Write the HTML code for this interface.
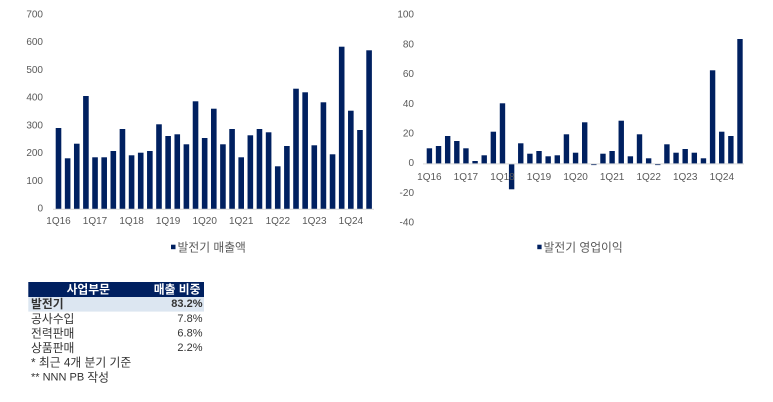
<!DOCTYPE html>
<html><head><meta charset="utf-8"><style>
html,body{margin:0;padding:0;background:#fff;}
svg{display:block;}
text{font-family:"Liberation Sans","Noto Sans CJK KR",sans-serif;}
.t{font-size:10px;fill:#595959;}
.lg{font-size:11.8px;fill:#595959;}
.tb{font-size:11px;fill:#333;}
.k{font-size:11.8px;}
</style></head><body>
<svg width="773" height="402" viewBox="0 0 773 402" xmlns="http://www.w3.org/2000/svg">
<!-- LEFT CHART -->
<g class="t" text-anchor="end" dominant-baseline="central">
<text x="43" y="15">700</text><text x="43" y="42.7">600</text><text x="43" y="70.4">500</text><text x="43" y="98.1">400</text><text x="43" y="125.9">300</text><text x="43" y="153.6">200</text><text x="43" y="181.3">100</text><text x="43" y="209">0</text>
</g>
<g fill="#002060">
<rect x="55.70" y="128" width="5.6" height="81"/>
<rect x="64.84" y="158.3" width="5.6" height="50.7"/>
<rect x="73.97" y="143.7" width="5.6" height="65.3"/>
<rect x="83.11" y="96" width="5.6" height="113"/>
<rect x="92.24" y="157.3" width="5.6" height="51.7"/>
<rect x="101.38" y="157.3" width="5.6" height="51.7"/>
<rect x="110.51" y="151" width="5.6" height="58"/>
<rect x="119.65" y="129" width="5.6" height="80"/>
<rect x="128.78" y="155.3" width="5.6" height="53.7"/>
<rect x="137.92" y="152.7" width="5.6" height="56.3"/>
<rect x="147.05" y="151" width="5.6" height="58"/>
<rect x="156.19" y="124.3" width="5.6" height="84.7"/>
<rect x="165.32" y="136" width="5.6" height="73"/>
<rect x="174.46" y="134.3" width="5.6" height="74.7"/>
<rect x="183.59" y="144.3" width="5.6" height="64.7"/>
<rect x="192.73" y="101.3" width="5.6" height="107.7"/>
<rect x="201.86" y="138" width="5.6" height="71"/>
<rect x="211.00" y="108.7" width="5.6" height="100.3"/>
<rect x="220.13" y="144.3" width="5.6" height="64.7"/>
<rect x="229.27" y="129" width="5.6" height="80"/>
<rect x="238.40" y="157.3" width="5.6" height="51.7"/>
<rect x="247.54" y="135.3" width="5.6" height="73.7"/>
<rect x="256.67" y="129" width="5.6" height="80"/>
<rect x="265.81" y="132.3" width="5.6" height="76.7"/>
<rect x="274.94" y="166.3" width="5.6" height="42.7"/>
<rect x="284.08" y="146" width="5.6" height="63"/>
<rect x="293.21" y="88.7" width="5.6" height="120.3"/>
<rect x="302.35" y="92.3" width="5.6" height="116.7"/>
<rect x="311.48" y="145.3" width="5.6" height="63.7"/>
<rect x="320.62" y="102.3" width="5.6" height="106.7"/>
<rect x="329.75" y="154.3" width="5.6" height="54.7"/>
<rect x="338.89" y="46.7" width="5.6" height="162.3"/>
<rect x="348.02" y="110.7" width="5.6" height="98.3"/>
<rect x="357.16" y="130" width="5.6" height="79"/>
<rect x="366.29" y="50.3" width="5.6" height="158.7"/>
</g>
<line x1="53" y1="209.2" x2="374" y2="209.2" stroke="#d9d9d9" stroke-width="1"/>
<g class="t" text-anchor="middle" dominant-baseline="central">
<text x="58.5" y="221.7">1Q16</text><text x="95.0" y="221.7">1Q17</text><text x="131.6" y="221.7">1Q18</text><text x="168.1" y="221.7">1Q19</text><text x="204.7" y="221.7">1Q20</text><text x="241.2" y="221.7">1Q21</text><text x="277.8" y="221.7">1Q22</text><text x="314.3" y="221.7">1Q23</text><text x="350.9" y="221.7">1Q24</text>
</g>
<rect x="171" y="244.7" width="4.5" height="4.5" fill="#002060"/>
<text class="lg" x="177.5" y="247.3" dominant-baseline="central">발전기 매출액</text>

<!-- RIGHT CHART -->
<g class="t" text-anchor="end" dominant-baseline="central">
<text x="414" y="15">100</text><text x="414" y="44.75">80</text><text x="414" y="74.5">60</text><text x="414" y="104.25">40</text><text x="414" y="134">20</text><text x="414" y="163.7">0</text><text x="414" y="193.5">-20</text><text x="414" y="223.2">-40</text>
</g>
<g fill="#002060">
<rect x="426.70" y="148.3" width="5.4" height="15.4"/>
<rect x="435.84" y="146" width="5.4" height="17.7"/>
<rect x="444.97" y="136" width="5.4" height="27.7"/>
<rect x="454.11" y="141" width="5.4" height="22.7"/>
<rect x="463.24" y="148.3" width="5.4" height="15.4"/>
<rect x="472.38" y="161" width="5.4" height="2.7"/>
<rect x="481.51" y="155.3" width="5.4" height="8.4"/>
<rect x="490.65" y="131.7" width="5.4" height="32"/>
<rect x="499.78" y="103.3" width="5.4" height="60.4"/>
<rect x="508.92" y="163.7" width="5.4" height="25.6"/>
<rect x="518.05" y="143.3" width="5.4" height="20.4"/>
<rect x="527.19" y="153.7" width="5.4" height="10"/>
<rect x="536.32" y="151" width="5.4" height="12.7"/>
<rect x="545.46" y="156.3" width="5.4" height="7.4"/>
<rect x="554.59" y="155.3" width="5.4" height="8.4"/>
<rect x="563.73" y="134.3" width="5.4" height="29.4"/>
<rect x="572.86" y="152.7" width="5.4" height="11"/>
<rect x="582.00" y="122.3" width="5.4" height="41.4"/>
<rect x="591.13" y="163.7" width="5.4" height="1.4"/>
<rect x="600.27" y="153.7" width="5.4" height="10"/>
<rect x="609.40" y="151" width="5.4" height="12.7"/>
<rect x="618.54" y="120.7" width="5.4" height="43"/>
<rect x="627.67" y="156.3" width="5.4" height="7.4"/>
<rect x="636.81" y="134.3" width="5.4" height="29.4"/>
<rect x="645.94" y="158.3" width="5.4" height="5.4"/>
<rect x="655.08" y="163.7" width="5.4" height="1.4"/>
<rect x="664.21" y="144.3" width="5.4" height="19.4"/>
<rect x="673.35" y="152.7" width="5.4" height="11"/>
<rect x="682.48" y="149" width="5.4" height="14.7"/>
<rect x="691.62" y="152.7" width="5.4" height="11"/>
<rect x="700.75" y="158.3" width="5.4" height="5.4"/>
<rect x="709.89" y="70.3" width="5.4" height="93.4"/>
<rect x="719.02" y="131.7" width="5.4" height="32"/>
<rect x="728.16" y="136" width="5.4" height="27.7"/>
<rect x="737.29" y="39" width="5.4" height="124.7"/>
</g>
<line x1="423" y1="163.9" x2="744" y2="163.9" stroke="#d9d9d9" stroke-width="1"/>
<g class="t" text-anchor="middle" dominant-baseline="central">
<text x="429.4" y="177.7">1Q16</text><text x="465.9" y="177.7">1Q17</text><text x="502.5" y="177.7">1Q18</text><text x="539.0" y="177.7">1Q19</text><text x="575.6" y="177.7">1Q20</text><text x="612.1" y="177.7">1Q21</text><text x="648.7" y="177.7">1Q22</text><text x="685.2" y="177.7">1Q23</text><text x="721.8" y="177.7">1Q24</text>
</g>
<rect x="537.3" y="244.7" width="4.3" height="4.5" fill="#002060"/>
<text class="lg" x="543.5" y="247.3" dominant-baseline="central">발전기 영업이익</text>

<!-- TABLE -->
<rect x="28.3" y="282" width="175.7" height="15" fill="#002060"/>
<rect x="28.3" y="297" width="175.7" height="14.6" fill="#dce6f1"/>
<g font-size="11.8" font-weight="bold" fill="#fff" dominant-baseline="central">
<text x="88.3" y="289.5" text-anchor="middle">사업부문</text>
<text x="200.5" y="289.5" text-anchor="end">매출 비중</text>
</g>
<g class="tb" dominant-baseline="central">
<text x="31" y="304.2" font-weight="bold" class="k">발전기</text>
<text x="202.5" y="304.2" text-anchor="end" font-weight="bold">83.2%</text>
<text x="31" y="319" class="k">공사수입</text>
<text x="202.5" y="319" text-anchor="end">7.8%</text>
<text x="31" y="333.5" class="k">전력판매</text>
<text x="202.5" y="333.5" text-anchor="end">6.8%</text>
<text x="31" y="348.2" class="k">상품판매</text>
<text x="202.5" y="348.2" text-anchor="end">2.2%</text>
<text x="31" y="362.7" class="k">* 최근 4개 분기 기준</text>
<text x="31" y="377.5">** NNN PB <tspan class="k">작성</tspan></text>
</g>
</svg>
</body></html>
